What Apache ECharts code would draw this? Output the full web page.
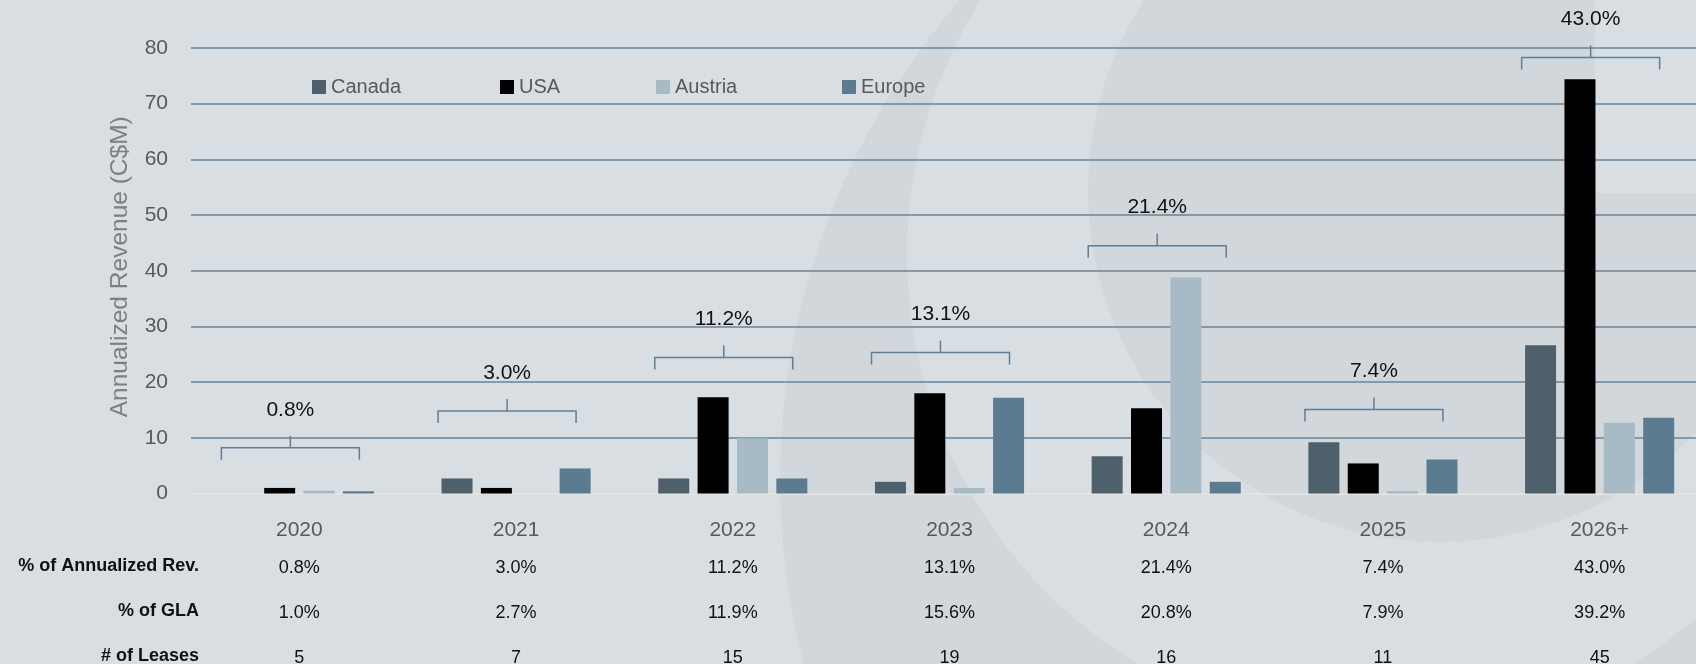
<!DOCTYPE html>
<html>
<head>
<meta charset="utf-8">
<script src="https://cdn.jsdelivr.net/npm/echarts@6/dist/echarts.min.js"></script>
<style>
html,body{margin:0;padding:0;background:#d9dee2;}
#c{width:1696px;height:664px;}
</style>
</head>
<body>
<div id="c"></div>
<script>
// ---- data ----
var years = ['2020', '2021', '2022', '2023', '2024', '2025', '2026+'];
var seriesNames = ['Canada', 'USA', 'Austria', 'Europe'];
var canada  = [0,   2.7, 2.7,  2.1,  6.7,  9.2, 26.6];
var usa     = [1.0, 1.0, 17.3, 18.0, 15.3, 5.4, 74.4];
var austria = [0.5, 0,   9.9,  1.0,  38.8, 0.45, 12.7];
var europe  = [0.4, 4.5, 2.7,  17.2, 2.1,  6.1, 13.6];
var revShare = ['0.8%', '3.0%', '11.2%', '13.1%', '21.4%', '7.4%', '43.0%'];
var glaShare = ['1.0%', '2.7%', '11.9%', '15.6%', '20.8%', '7.9%', '39.2%'];
var leaseCount = ['5', '7', '15', '19', '16', '11', '45'];
var bracketLevel = [8.2, 14.8, 24.4, 25.3, 44.5, 15.1, 78.3];
var rowLabels = ['% of Annualized Rev.', '% of GLA', '# of Leases'];
var yTicks = [0, 10, 20, 30, 40, 50, 60, 70, 80];

var FONT = '"Liberation Sans", Arial, sans-serif';
var colors = ['#4e606c', '#000000', '#a6bbc6', '#5b7c90'];
var seriesData = [canada, usa, austria, europe];

var chart = echarts.init(document.getElementById('c'), null, {renderer: 'canvas'});

var DARK = '#d2d7db', LIGHT = '#d9dee2';

var legendLefts = [312, 500, 656, 842];
var legends = seriesNames.map(function (n, i) {
  return {
    data: [n], left: legendLefts[i], top: 77, padding: 0,
    icon: 'rect', itemWidth: 14, itemHeight: 14,
    textStyle: {color: '#595959', fontSize: 20, fontFamily: FONT},
    selectedMode: false
  };
});

var tableAxis = function (arr, margin) {
  return {
    type: 'category', data: arr, gridIndex: 0, position: 'bottom',
    axisLine: {show: false}, axisTick: {show: false}, splitLine: {show: false},
    axisLabel: {margin: margin, color: '#111', fontSize: 18, fontFamily: FONT, interval: 0}
  };
};

var rowYs = [566, 611, 656];

var option = {
  backgroundColor: LIGHT,
  animation: false,
  textStyle: {fontFamily: FONT},
  legend: legends,
  grid: {left: 191, top: 48, right: -12, height: 445.5, containLabel: false, outerBoundsMode: 'none'},
  xAxis: [
    {
      type: 'category', data: years,
      axisLine: {show: true, lineStyle: {color: '#e4e3df', width: 2}},
      axisTick: {show: false},
      axisLabel: {margin: 26, color: '#595959', fontSize: 21, fontFamily: FONT, interval: 0}
    },
    tableAxis(revShare, 66),
    tableAxis(glaShare, 111),
    tableAxis(leaseCount, 156)
  ],
  yAxis: {
    type: 'value', min: yTicks[0], max: yTicks[yTicks.length - 1], interval: 10,
    name: 'Annualized Revenue (C$M)', nameLocation: 'middle', nameGap: 58,
    nameTextStyle: {color: '#7f7f7f', fontSize: 24.5, fontFamily: FONT, padding: [0, 0, 0, 8]},
    axisLine: {show: false}, axisTick: {show: false},
    axisLabel: {margin: 23, color: '#595959', fontSize: 21, fontFamily: FONT},
    splitLine: {lineStyle: {color: '#66849a', width: 1.5}}
  },
  series: seriesNames.map(function (n, i) {
    return {
      name: n, type: 'bar', data: seriesData[i],
      barWidth: 31, barGap: '27%',
      itemStyle: {color: colors[i]},
      z: 3
    };
  }).concat([{
    type: 'custom',
    data: bracketLevel.map(function (v, i) { return [i, v]; }),
    z: 4,
    renderItem: function (params, api) {
      var p = api.coord([api.value(0), api.value(1)]);
      var cx = p[0] - 9, y = p[1], hw = 69;
      var st = {stroke: '#5f7f96', lineWidth: 1.5, fill: null};
      return {
        type: 'group', children: [
          {type: 'polyline', shape: {points: [[cx - hw, y + 12], [cx - hw, y], [cx + hw, y], [cx + hw, y + 12]]}, style: st},
          {type: 'line', shape: {x1: cx, y1: y, x2: cx, y2: y - 12}, style: st},
          {type: 'text', x: cx, y: y - 38, style: {text: revShare[params.dataIndex], fill: '#111', fontSize: 21, fontFamily: FONT, align: 'center', verticalAlign: 'middle'}}
        ]
      };
    }
  }]),
  graphic: [
    {type: 'circle', z: -10, silent: true, shape: {cx: 1510, cy: 480, r: 730}, style: {fill: DARK}},
    {type: 'circle', z: -9, silent: true, shape: {cx: 1385, cy: 255, r: 478}, style: {fill: LIGHT}},
    {type: 'circle', z: -8, silent: true, shape: {cx: 1440, cy: 190, r: 352}, style: {fill: DARK}},
    {type: 'rect', z: -7, silent: true, shape: {x: 1595, y: 0, width: 110, height: 193}, style: {fill: LIGHT}}
  ].concat(rowLabels.map(function (t, i) {
    return {type: 'text', z: 10, x: 199, y: rowYs[i], style: {text: t, fill: '#111', fontSize: 18, fontWeight: 'bold', fontFamily: FONT, align: 'right', verticalAlign: 'middle'}};
  }))
};

chart.setOption(option);
</script>
</body>
</html>
